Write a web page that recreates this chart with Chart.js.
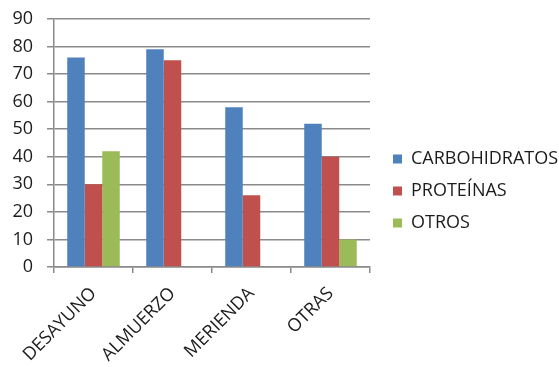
<!DOCTYPE html>
<html>
<head>
<meta charset="utf-8">
<script src="https://cdn.jsdelivr.net/npm/chart.js@4.4.1/dist/chart.umd.min.js"></script>
<style>
  html, body { margin: 0; padding: 0; background: #fff; }
  #wrap { width: 559px; height: 367px; }
</style>
</head>
<body>
<div id="wrap"><canvas id="chart" width="559" height="367"></canvas></div>
<script>
const categories = ["DESAYUNO", "ALMUERZO", "MERIENDA", "OTRAS"];
const carbohidratos = [76, 79, 58, 52];
const proteinas = [30, 75, 26, 40];
const otros = [42, null, null, 10];
const yTicks = [0, 10, 20, 30, 40, 50, 60, 70, 80, 90];

const FONT = "'Open Sans', sans-serif";
const TEXT = "#1c1c1c";
const GRID = "#8a8a8a";

// legend sits in a fixed-width column to the right of the plot
const legendColumn = {
  id: "legendColumn",
  afterInit(chart) {
    const legend = chart.legend;
    const fit = legend.fit;
    legend.fit = function () {
      fit.call(this);
      this.width = 189;
    };
  },
  afterUpdate(chart) {
    chart.legend.left += 9;
    chart.legend.top -= 4;
  },
};

const ctx = document.getElementById("chart").getContext("2d");

new Chart(ctx, {
  type: "bar",
  data: {
    labels: categories,
    datasets: [
      { label: "CARBOHIDRATOS", data: carbohidratos, backgroundColor: "#4F81BD" },
      { label: "PROTEÍNAS", data: proteinas, backgroundColor: "#C0504D" },
      { label: "OTROS", data: otros, backgroundColor: "#9BBB59" },
    ],
  },
  plugins: [legendColumn],
  options: {
    responsive: false,
    animation: false,
    layout: { padding: { top: 19, left: 0, right: 0, bottom: 0 } },
    datasets: {
      bar: { barPercentage: 1, categoryPercentage: 0.665, skipNull: false },
    },
    scales: {
      x: {
        afterFit: (scale) => {
          scale.height = 100;
        },
        grid: {
          offset: true,
          drawOnChartArea: false,
          drawTicks: true,
          tickLength: 6,
          color: GRID,
          lineWidth: 1.5,
        },
        border: { color: GRID, width: 1.5 },
        ticks: {
          color: TEXT,
          font: { family: FONT, size: 18 },
          minRotation: 45,
          maxRotation: 45,
          padding: 10,
        },
      },
      y: {
        min: 0,
        max: 90,
        afterBuildTicks: (axis) => {
          axis.ticks = yTicks.map((v) => ({ value: v }));
        },
        afterFit: (scale) => {
          scale.width = 54;
          scale.paddingTop = 0;
          scale.paddingBottom = 0;
        },
        grid: { color: GRID, lineWidth: 1.5, tickLength: 7 },
        border: { color: GRID, width: 1.5 },
        ticks: {
          color: TEXT,
          font: { family: FONT, size: 18 },
          padding: 14,
        },
      },
    },
    plugins: {
      legend: {
        position: "right",
        labels: {
          color: TEXT,
          font: { family: FONT, size: 18 },
          boxWidth: 9,
          boxHeight: 9,
          padding: 14,
        },
      },
      tooltip: { enabled: false },
    },
  },
});
</script>
</body>
</html>
